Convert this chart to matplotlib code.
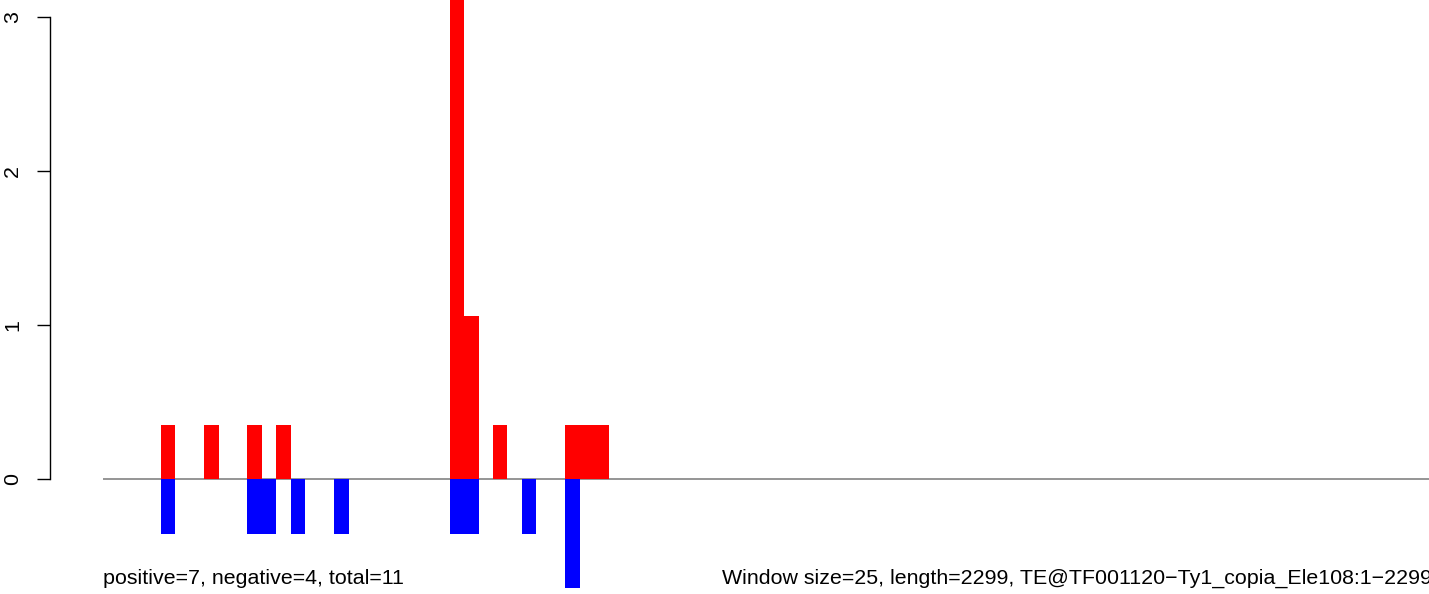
import matplotlib
matplotlib.use("Agg")
import matplotlib.pyplot as plt
import numpy as np

plt.rcParams['font.family'] = ['Liberation Sans', 'DejaVu Sans']

# windows of 25 bp along a 2299 bp element
window_size = 25
seq_length = 2299
n_windows = int(np.ceil(seq_length / window_size))

pos_windows = [4, 7, 10, 12, 24, 25, 27, 32, 33, 34]
pos_values = [0.353, 0.353, 0.353, 0.353, 3.53, 1.06, 0.353, 0.353, 0.353, 0.353]
neg_windows = [4, 10, 11, 13, 16, 24, 25, 29, 32]
neg_values = [-0.353, -0.353, -0.353, -0.353, -0.353, -0.353, -0.353, -0.353, -0.706]

y_ticks = [0, 1, 2, 3]
left_note = "positive=7, negative=4, total=11"
right_note = "Window size=25, length=2299, TE@TF001120\u2212Ty1_copia_Ele108:1\u22122299"

W, H = 1429, 594
fig = plt.figure(figsize=(W / 100, H / 100), dpi=100)

# plot region in pixels: x 103..1432, y (from top) 17 (=3) .. 588 (=-0.706)
x0, x1 = 103, 1432
y_top, y_bot = 17, 588
ax = fig.add_axes([x0 / W, 1 - y_bot / H, (x1 - x0) / W, (y_bot - y_top) / H])
ax.set_xlim(0, n_windows)
ax.set_ylim(-0.706, 3)

ax.axhline(0, color='#8c8c8c', lw=1.3, zorder=1)
ax.bar(pos_windows, pos_values, width=1, align='edge', color='#ff0000',
       linewidth=0, clip_on=False, zorder=2)
ax.bar(neg_windows, neg_values, width=1, align='edge', color='#0000ff',
       linewidth=0, clip_on=False, zorder=2)

for s in ['top', 'right', 'bottom']:
    ax.spines[s].set_visible(False)
ax.spines['left'].set_position(('outward', 38))
ax.spines['left'].set_bounds(0, 3)
ax.spines['left'].set_linewidth(1.0)
ax.set_xticks([])
ax.set_yticks(y_ticks)
ax.set_yticklabels([str(t) for t in y_ticks], rotation=90, va='center', fontsize=15.4)
ax.tick_params(axis='y', length=9.4, width=1.0, pad=11)

fig.text(x0 / W, 1 - 578 / H, left_note, ha='left', va='center', fontsize=15.4)
fig.text(x1 / W, 1 - 578 / H, right_note, ha='right', va='center', fontsize=15.4)

fig.savefig("out.png", dpi=100)
